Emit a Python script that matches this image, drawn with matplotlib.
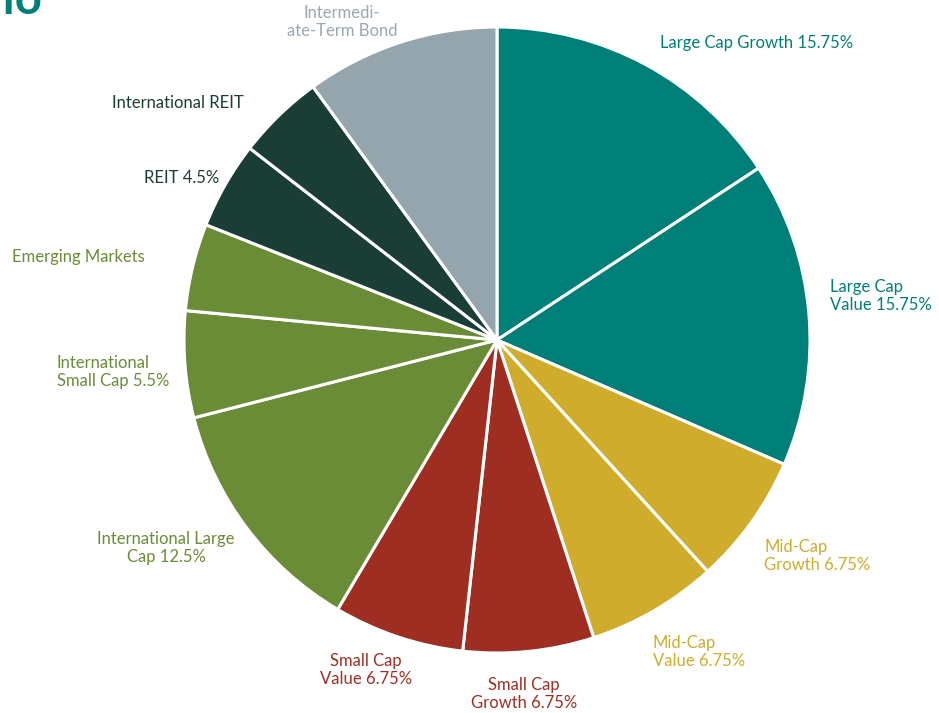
import matplotlib
matplotlib.use("Agg")
import matplotlib.pyplot as plt

categories = ["Large Cap Growth", "Large Cap Value", "Mid-Cap Growth", "Mid-Cap Value",
              "Small Cap Growth", "Small Cap Value", "International Large Cap",
              "International Small Cap", "Emerging Markets", "REIT",
              "International REIT", "Intermediate-Term Bond"]
values = [15.75, 15.75, 6.75, 6.75, 6.75, 6.75, 12.5, 5.5, 4.5, 4.5, 4.5, 10.0]
labels = ["Large Cap Growth 15.75%", "Large Cap\nValue 15.75%", "Mid-Cap\nGrowth 6.75%",
          "Mid-Cap\nValue 6.75%", "Small Cap\nGrowth 6.75%", "Small Cap\nValue 6.75%",
          "International Large\nCap 12.5%", "International\nSmall Cap 5.5%",
          "Emerging Markets", "REIT 4.5%", "International REIT", "Intermedi-\nate-Term Bond"]

TEAL = "#007F78"; GOLD = "#D0AC2C"; RED = "#9E2E22"; GREEN = "#6A8C37"
DARK = "#1A3D35"; GREY = "#95A5AD"
colors = [TEAL, TEAL, GOLD, GOLD, RED, RED, GREEN, GREEN, GREEN, DARK, DARK, GREY]
label_colors = [TEAL, TEAL, GOLD, GOLD, RED, RED, GREEN, GREEN, GREEN, DARK, DARK, "#9AA8AF"]

W, H = 939, 713
fig = plt.figure(figsize=(W/100, H/100), dpi=100)
ax = fig.add_axes([0, 0, 1, 1])
ax.set_xlim(0, W); ax.set_ylim(0, H)
ax.set_aspect("equal")
ax.axis("off")

cx, cy, r = 497, H - 340, 313
ax.pie(values, colors=colors, startangle=90, counterclock=False, center=(cx, cy), radius=r,
       wedgeprops=dict(edgecolor="white", linewidth=2.2))
ax.set_xlim(0, W); ax.set_ylim(0, H)

# label positions in pixel coordinates (x, y from top), alignment
pos = [(660, 43, "left"), (830, 296, "left"), (764, 556, "left"), (653, 652, "left"),
       (524, 694, "center"), (366, 670, "center"), (166, 548, "center"),
       (57, 372, "left"), (12, 257, "left"), (219, 178, "right"), (244, 103, "right"),
       (342, 22, "center")]
for lab, c, (x, y, ha) in zip(labels, label_colors, pos):
    ax.text(x, H - y, lab, color=c, ha=ha, va="center", fontsize=12,
            family="Lato", linespacing=1.15, multialignment=ha)

# cut-off title at the top-left corner (only its lower part lies inside the figure)
fig.text(42/W, 1 - 14/H, "Portfolio", color=TEAL, fontsize=34, fontweight="bold",
         family="Lato", ha="right", va="baseline")

fig.savefig("out.png", dpi=100)
